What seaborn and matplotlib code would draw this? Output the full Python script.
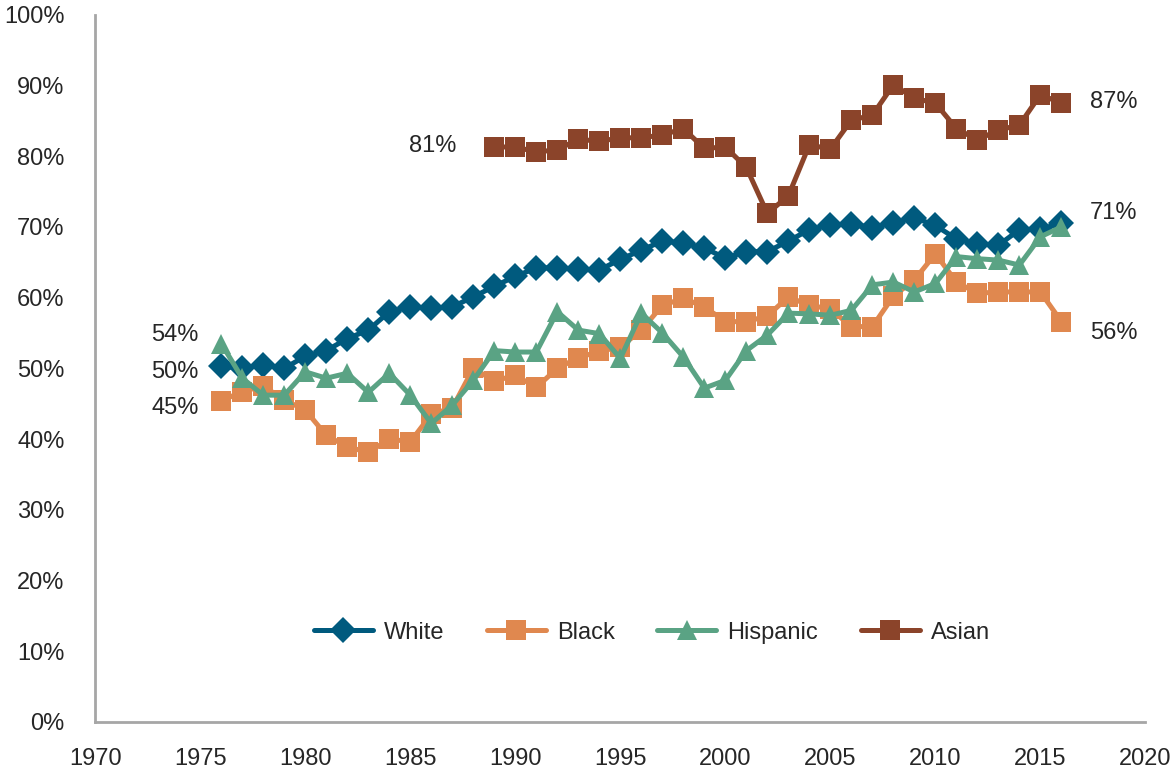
import numpy as np
import pandas as pd
import seaborn as sns
import matplotlib.pyplot as plt
from matplotlib.ticker import PercentFormatter

years = list(range(1976, 2017))
asian_years = list(range(1989, 2017))

white = [50.3, 50.0, 50.5, 50.0, 51.7, 52.5, 54.2, 55.4, 58.0, 58.7,
         58.5, 58.7, 60.1, 61.6, 63.0, 64.2, 64.2, 64.0, 63.9, 65.4,
         66.7, 68.0, 67.7, 67.0, 65.6, 66.5, 66.5, 68.0, 69.6, 70.3,
         70.4, 69.9, 70.6, 71.3, 70.2, 68.3, 67.6, 67.4, 69.6, 69.7,
         70.5]
black = [45.4, 46.7, 47.5, 45.5, 44.1, 40.5, 38.9, 38.1, 40.0, 39.6,
         43.5, 44.4, 50.0, 48.2, 49.0, 47.3, 50.0, 51.5, 52.4, 53.0,
         55.4, 58.9, 59.9, 58.7, 56.6, 56.6, 57.4, 60.1, 58.9, 58.4,
         55.9, 55.9, 60.2, 62.5, 66.2, 62.2, 60.6, 60.8, 60.8, 60.8,
         56.6]
hispanic = [53.5, 48.6, 46.2, 46.2, 49.5, 48.6, 49.3, 46.6, 49.3, 46.2,
            42.2, 44.8, 48.3, 52.5, 52.3, 52.3, 58.0, 55.4, 54.9, 51.4,
            57.8, 55.0, 51.6, 47.2, 48.3, 52.5, 54.7, 57.8, 57.7, 57.5,
            58.2, 61.8, 62.2, 60.8, 62.0, 65.8, 65.5, 65.3, 64.6, 68.6,
            70.0]
asian = [81.3, 81.3, 80.6, 80.9, 82.4, 82.1, 82.6, 82.6, 83.0, 83.9,
         81.1, 81.3, 78.4, 71.9, 74.4, 81.6, 81.0, 85.1, 85.8, 90.1,
         88.2, 87.5, 83.9, 82.3, 83.7, 84.4, 88.7, 87.5]

groups = ['White', 'Black', 'Hispanic', 'Asian']
colors = {'White': '#005a7e', 'Black': '#e0884f',
          'Hispanic': '#5aa384', 'Asian': '#8b442a'}
markers = {'White': 'D', 'Black': 's', 'Hispanic': '^', 'Asian': 's'}
msizes = {'White': 13, 'Black': 14, 'Hispanic': 14, 'Asian': 14}

df = pd.concat([
    pd.DataFrame({'year': years, 'pct': white, 'group': 'White'}),
    pd.DataFrame({'year': years, 'pct': black, 'group': 'Black'}),
    pd.DataFrame({'year': years, 'pct': hispanic, 'group': 'Hispanic'}),
    pd.DataFrame({'year': asian_years, 'pct': asian, 'group': 'Asian'}),
])

sns.set_style('white')
plt.rcParams['font.family'] = ['Liberation Sans', 'DejaVu Sans']
txt_col = '#262626'
axis_col = '#a6a6a6'
fs = 17

fig = plt.figure(figsize=(11.76, 7.77), dpi=100)
ax = fig.add_axes([0.081, 0.071, 0.893, 0.910])

sns.lineplot(data=df, x='year', y='pct', hue='group', style='group',
             hue_order=groups, style_order=groups, palette=colors,
             markers=markers, dashes=False, linewidth=3.6, legend=False,
             ax=ax)

for line, g in zip(ax.lines, groups):
    line.set_markersize(msizes[g])
    line.set_markeredgewidth(0)
    line.set_label(g)
    line.set_solid_capstyle('round')

ax.set_xlim(1970, 2020)
ax.set_ylim(0, 100)
ax.set_xticks(range(1970, 2021, 5))
ax.set_yticks(range(0, 101, 10))
ax.yaxis.set_major_formatter(PercentFormatter(decimals=0))
ax.set_xlabel('')
ax.set_ylabel('')

sns.despine(ax=ax)
for side in ['left', 'bottom']:
    ax.spines[side].set_color(axis_col)
    ax.spines[side].set_linewidth(2)
ax.tick_params(axis='both', direction='out', length=7, width=2,
               color=axis_col, labelsize=fs, labelcolor=txt_col)
ax.tick_params(axis='x', pad=12)
ax.tick_params(axis='y', pad=15)

# end labels
ax.text(1973.8, 54.7, '54%', ha='center', va='center', fontsize=fs, color=txt_col)
ax.text(1973.8, 49.5, '50%', ha='center', va='center', fontsize=fs, color=txt_col)
ax.text(1973.8, 44.4, '45%', ha='center', va='center', fontsize=fs, color=txt_col)
ax.text(1986.05, 81.5, '81%', ha='center', va='center', fontsize=fs, color=txt_col)
ax.text(2018.5, 87.7, '87%', ha='center', va='center', fontsize=fs, color=txt_col)
ax.text(2018.5, 72.0, '71%', ha='center', va='center', fontsize=fs, color=txt_col)
ax.text(2018.5, 55.0, '56%', ha='center', va='center', fontsize=fs, color=txt_col)

leg = ax.legend(loc='center', bbox_to_anchor=(0.53, 0.126), ncol=4,
                frameon=False, fontsize=fs, handlelength=2.5,
                columnspacing=1.8, handletextpad=0.47)
for t in leg.get_texts():
    t.set_color(txt_col)

fig.savefig('out.png', dpi=100)
